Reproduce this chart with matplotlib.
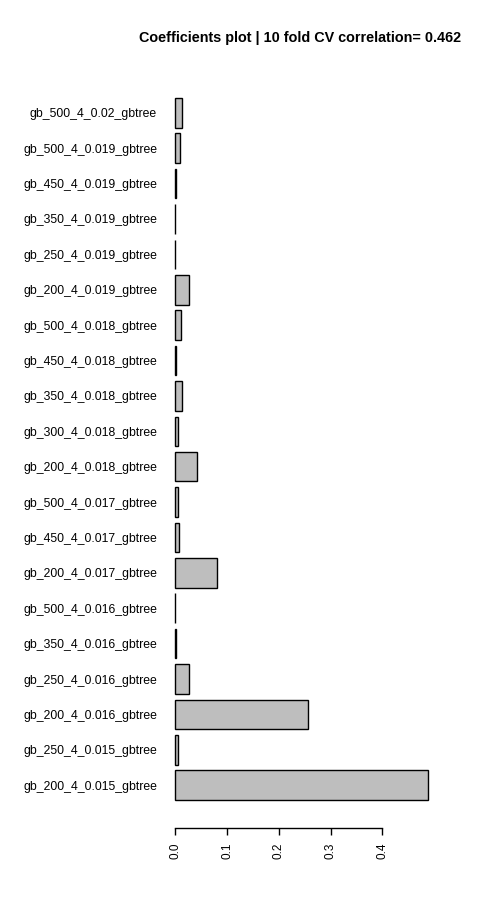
import matplotlib
matplotlib.use("Agg")
import matplotlib.pyplot as plt
import numpy as np

# bottom-to-top order, as drawn by barplot(horiz=TRUE)
models = [
    "gb_200_4_0.015_gbtree", "gb_250_4_0.015_gbtree", "gb_200_4_0.016_gbtree",
    "gb_250_4_0.016_gbtree", "gb_350_4_0.016_gbtree", "gb_500_4_0.016_gbtree",
    "gb_200_4_0.017_gbtree", "gb_450_4_0.017_gbtree", "gb_500_4_0.017_gbtree",
    "gb_200_4_0.018_gbtree", "gb_300_4_0.018_gbtree", "gb_350_4_0.018_gbtree",
    "gb_450_4_0.018_gbtree", "gb_500_4_0.018_gbtree", "gb_200_4_0.019_gbtree",
    "gb_250_4_0.019_gbtree", "gb_350_4_0.019_gbtree", "gb_450_4_0.019_gbtree",
    "gb_500_4_0.019_gbtree", "gb_500_4_0.02_gbtree",
]
coefs = [
    0.4877, 0.0045, 0.2558,
    0.0258, 0.0020, 0.0003,
    0.0800, 0.0077, 0.0045,
    0.0425, 0.0058, 0.0135,
    0.0020, 0.0116, 0.0270,
    0.0003, 0.0003, 0.0020,
    0.0097, 0.0135,
]
cv_corr = 0.462
x_ticks = [0.0, 0.1, 0.2, 0.3, 0.4]

plt.rcParams["font.family"] = ["Liberation Sans", "DejaVu Sans"]

fig = plt.figure(figsize=(5, 9), dpi=100)
# plot region in pixels: x 162.6..437.9, y 70..828 (from top)
ax = fig.add_axes([162.6 / 500, 72 / 900, 275.3 / 500, 758 / 900])

# R barplot geometry: width 1, space 0.2
pos = 0.7 + 1.2 * np.arange(len(coefs))
ax.barh(pos, coefs, height=1.0, color="#bebebe", edgecolor="black", linewidth=1.0)

xmax = max(coefs)
lo, hi = -0.01 * xmax, xmax
ext = 0.04 * (hi - lo)
ax.set_xlim(lo - ext, hi + ext)
ax.set_ylim(0.2 - 0.04 * 23.8, 24.0 + 0.04 * 23.8)

ax.set_yticks(pos)
ax.set_yticklabels(models, fontsize=8.8)
ax.tick_params(axis="y", length=0, pad=4)

ax.set_xticks(x_ticks)
ax.set_xticklabels([f"{t:.1f}" for t in x_ticks], rotation=90, fontsize=8.5)
ax.tick_params(axis="x", length=5.2, width=1.0, pad=5.5, direction="out")

for s in ["top", "right", "left"]:
    ax.spines[s].set_visible(False)
ax.spines["bottom"].set_bounds(x_ticks[0], x_ticks[-1])
ax.spines["bottom"].set_linewidth(1.0)

fig.text(300 / 500, 1 - 38 / 900,
         f"Coefficients plot | 10 fold CV correlation= {cv_corr}",
         ha="center", va="center", fontsize=10.4, fontweight="bold")

fig.savefig("out.png", dpi=100)
